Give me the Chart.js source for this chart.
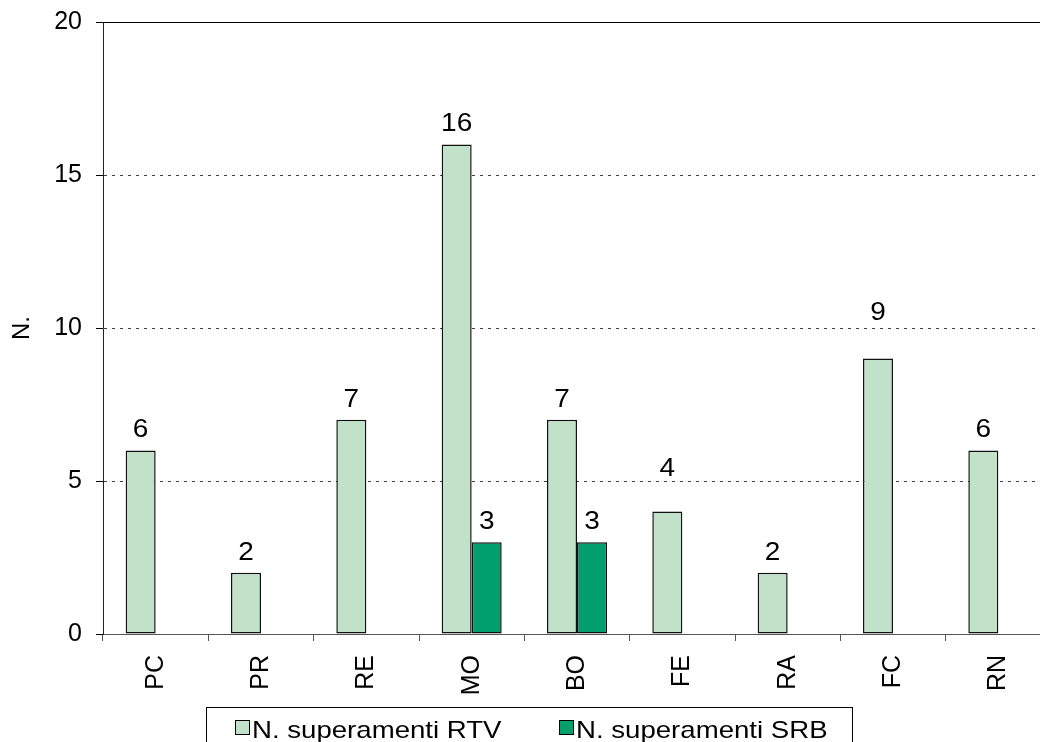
<!DOCTYPE html>
<html><head><meta charset="utf-8">
<script src="https://cdn.jsdelivr.net/npm/chart.js@4"></script>
<style>
html,body{margin:0;padding:0;background:#fff;overflow:hidden;}
#wrap{width:1040px;height:742px;overflow:hidden;position:relative;background:#fff;}
canvas{display:block;}
</style></head><body>
<div id="wrap"><canvas id="c" width="1051" height="742" style="width:1051px;height:742px"></canvas></div>
<script>
// ---- data ----
const categories = ['PC', 'PR', 'RE', 'MO', 'BO', 'FE', 'RA', 'FC', 'RN'];
const rtvValues = [6, 2, 7, 16, 7, 4, 2, 9, 6];
const srbValues = [null, null, null, 3, 3, null, null, null, null];
const seriesNames = ['N. superamenti RTV', 'N. superamenti SRB'];
const yTickValues = [0, 5, 10, 15, 20];
const yTitle = 'N.';

// ---- styles ----
const FONT = '"Liberation Sans", Arial, sans-serif';
const colors = ['#c2e1c9', '#009f6b'];
const labelGap = 13;
const labelExtraLift = {FE: 23, FC: 26};

const labelsPlugin = {
  id: 'valueLabels',
  afterDatasetsDraw(chart) {
    const ctx = chart.ctx;
    ctx.save();
    ctx.font = '25px ' + FONT;
    ctx.fillStyle = '#000';
    ctx.textAlign = 'center';
    ctx.textBaseline = 'alphabetic';
    chart.data.datasets.forEach((ds, di) => {
      const meta = chart.getDatasetMeta(di);
      meta.data.forEach((bar, i) => {
        const v = ds.data[i];
        if (v === null || v === undefined) return;
        const extra = di === 0 ? (labelExtraLift[categories[i]] || 0) : 0;
        ctx.save();
        ctx.translate(bar.x, bar.y - labelGap - extra);
        ctx.scale(1.12, 1);
        ctx.fillText(String(v), 0, 0);
        ctx.restore();
      });
    });
    ctx.restore();
  }
};

const framePlugin = {
  id: 'frameAndLegend',
  afterDraw(chart) {
    const ctx = chart.ctx;
    const a = chart.chartArea;
    ctx.save();
    ctx.strokeStyle = '#000';
    ctx.lineWidth = 1;
    ctx.beginPath();
    ctx.moveTo(a.left, Math.round(a.top) + 0.5);
    ctx.lineTo(a.right, Math.round(a.top) + 0.5);
    ctx.stroke();
    // legend box
    ctx.strokeRect(206.5, 707.5, 646, 60);
    const items = [
      {mx: 235.5, tx: 252},
      {mx: 559.5, tx: 576}
    ];
    chart.data.datasets.forEach((ds, di) => {
      const it = items[di];
      ctx.fillStyle = ds.backgroundColor;
      ctx.fillRect(it.mx, 720.5, 14, 14);
      ctx.strokeStyle = '#000';
      ctx.strokeRect(it.mx, 720.5, 14, 14);
      ctx.save();
      ctx.fillStyle = '#000';
      ctx.font = '24px ' + FONT;
      ctx.textAlign = 'left';
      ctx.textBaseline = 'alphabetic';
      ctx.translate(it.tx, 737.5);
      ctx.scale(1.15, 1);
      ctx.fillText(ds.label, 0, 0);
      ctx.restore();
    });
    ctx.restore();
  }
};

new Chart(document.getElementById('c'), {
  type: 'bar',
  data: {
    labels: categories,
    datasets: [
      {label: seriesNames[0], data: rtvValues, backgroundColor: colors[0], borderColor: '#111', borderWidth: 1.5, borderSkipped: false, inflateAmount: 0},
      {label: seriesNames[1], data: srbValues, backgroundColor: colors[1], borderColor: '#111', borderWidth: 1.5, borderSkipped: false, inflateAmount: 0}
    ]
  },
  options: {
    responsive: false,
    animation: false,
    devicePixelRatio: 1,
    layout: {padding: {top: 22, right: 0, bottom: 0, left: 0}},
    plugins: {legend: {display: false}, tooltip: {enabled: false}},
    datasets: {bar: {categoryPercentage: 0.57, barPercentage: 1}},
    scales: {
      x: {
        offset: true,
        grid: {display: true, drawOnChartArea: false, drawTicks: true, tickLength: 7, tickColor: '#555', offset: true},
        border: {display: true, color: '#555', width: 1},
        ticks: {font: {family: FONT, size: 25}, color: '#000', minRotation: 90, maxRotation: 90, padding: 14, autoSkip: false},
        afterFit(s) { s.height = 108; }
      },
      y: {
        min: yTickValues[0],
        max: yTickValues[yTickValues.length - 1],
        afterBuildTicks(s) { s.ticks = yTickValues.map(v => ({value: v})); },
        grid: {
          color: c => (c.tick && (c.tick.value === 0 || c.tick.value === 20)) ? 'rgba(0,0,0,0)' : '#404040',
          lineWidth: 1,
          tickColor: '#000', tickLength: 7, tickBorderDash: []
        },
        border: {display: true, color: '#222', width: 1, dash: [3, 5]},
        ticks: {font: {family: FONT, size: 25, lineHeight: 0.5}, color: '#000', padding: 14},
        title: {display: true, text: yTitle, font: {family: FONT, size: 24}, color: '#000', padding: {top: 8, bottom: 0}},
        afterFit(s) { s.width = 103; }
      }
    }
  },
  plugins: [labelsPlugin, framePlugin]
});
</script>
</body></html>
